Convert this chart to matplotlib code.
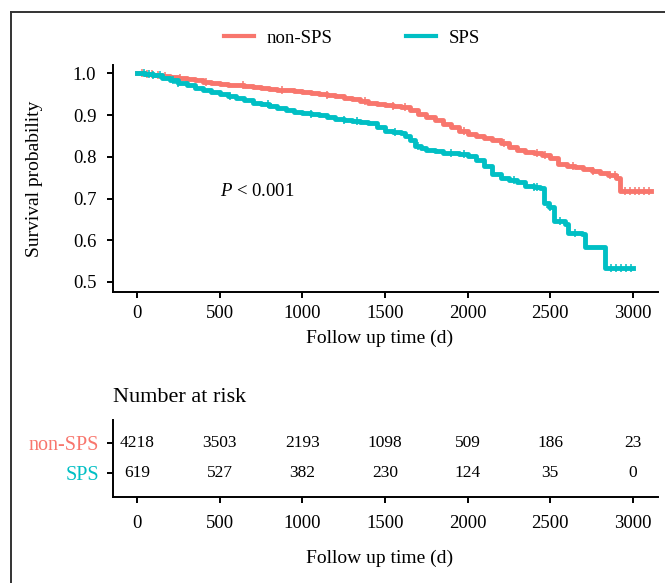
import numpy as np
import matplotlib
matplotlib.use('Agg')
from matplotlib import pyplot as plt
from matplotlib.lines import Line2D

plt.rcParams['font.family'] = ['Liberation Serif', 'DejaVu Serif']
plt.rcParams['mathtext.fontset'] = 'custom'
plt.rcParams['mathtext.it'] = 'Liberation Serif:italic'
plt.rcParams['mathtext.rm'] = 'Liberation Serif'

# Kaplan-Meier step points (time in days, survival)
non_sps_time = [0, 50, 100, 150, 200, 250, 300, 350, 400, 450, 500, 550, 600, 650, 700,
                750, 800, 850, 900, 950, 1000, 1050, 1100, 1150, 1200, 1250, 1300, 1350,
                1400, 1450, 1500, 1550, 1600, 1650, 1700, 1750, 1800, 1850, 1900, 1950,
                2000, 2050, 2100, 2150, 2200, 2250, 2300, 2350, 2400, 2450, 2500, 2550,
                2600, 2650, 2700, 2750, 2800, 2850, 2900, 2920, 3110]
non_sps_surv = [1.000, 0.999, 0.997, 0.994, 0.991, 0.988, 0.986, 0.983, 0.980, 0.978,
                0.975, 0.973, 0.971, 0.969, 0.967, 0.965, 0.963, 0.961, 0.959, 0.958,
                0.956, 0.953, 0.951, 0.949, 0.946, 0.942, 0.938, 0.934, 0.930, 0.926,
                0.923, 0.921, 0.919, 0.912, 0.902, 0.895, 0.887, 0.879, 0.871, 0.862,
                0.855, 0.851, 0.846, 0.841, 0.832, 0.823, 0.816, 0.811, 0.808, 0.805,
                0.797, 0.782, 0.779, 0.775, 0.770, 0.766, 0.761, 0.756, 0.750, 0.717,
                0.717]

sps_time = [0, 50, 100, 150, 200, 250, 300, 350, 400, 450, 500, 550, 600, 650, 700, 750,
            800, 850, 900, 950, 1000, 1050, 1100, 1150, 1200, 1250, 1300, 1350, 1400,
            1450, 1500, 1550, 1600, 1620, 1650, 1680, 1720, 1750, 1800, 1850, 1900, 1950,
            2000, 2050, 2100, 2150, 2200, 2250, 2300, 2350, 2400, 2440, 2460, 2490, 2520,
            2590, 2610, 2690, 2710, 2830, 3000]
sps_surv = [1.000, 0.998, 0.995, 0.990, 0.985, 0.978, 0.971, 0.965, 0.960, 0.955, 0.950,
            0.945, 0.940, 0.935, 0.930, 0.926, 0.922, 0.917, 0.912, 0.908, 0.905, 0.902,
            0.899, 0.895, 0.891, 0.888, 0.885, 0.884, 0.882, 0.872, 0.862, 0.860, 0.858,
            0.851, 0.840, 0.826, 0.820, 0.816, 0.813, 0.810, 0.808, 0.806, 0.801, 0.792,
            0.778, 0.758, 0.749, 0.745, 0.740, 0.731, 0.727, 0.726, 0.690, 0.680, 0.645,
            0.640, 0.618, 0.615, 0.583, 0.533, 0.533]

# censored observations (times)
non_sps_censor = [30, 60, 90, 130, 170, 260, 420, 640, 880, 1150, 1380, 1550, 1620,
                  1980, 2220, 2420, 2470, 2640, 2760, 2860, 2890, 2950, 2980, 3010, 3040,
                  3070, 3100]
sps_censor = [40, 70, 100, 140, 220, 250, 560, 790, 1050, 1250, 1330, 1560, 1700, 1900,
              1980, 2280, 2400, 2420, 2500, 2560, 2650, 2870, 2900, 2930, 2960, 2990]

risk_times = [0, 500, 1000, 1500, 2000, 2500, 3000]
risk_non_sps = [4218, 3503, 2193, 1098, 509, 186, 23]
risk_sps = [619, 527, 382, 230, 124, 35, 0]

groups = ['non-SPS', 'SPS']
colors = ['#F8766D', '#00BFC4']


def surv_at(times, surv, t):
    idx = np.searchsorted(times, t, side='right') - 1
    return np.asarray(surv)[idx]


fig = plt.figure(figsize=(6.65, 5.83), dpi=100)
W, H = 665.0, 583.0

# outer frame (cropped on right/bottom)
fig.add_artist(Line2D([10.5 / W, 10.5 / W], [0, 1 - 12 / H], transform=fig.transFigure,
                      color='#333333', lw=1.4))
fig.add_artist(Line2D([10.5 / W, 1], [1 - 12 / H, 1 - 12 / H], transform=fig.transFigure,
                      color='#333333', lw=1.4))

ax = fig.add_axes([113 / W, 1 - 292 / H, 545 / W, 227 / H])
risk_ax = fig.add_axes([113 / W, 1 - 497 / H, 545 / W, 77 / H])

series = [(non_sps_time, non_sps_surv, non_sps_censor), (sps_time, sps_surv, sps_censor)]
for (t, s, c), name, col in zip(series, groups, colors):
    ax.plot(t, s, drawstyle='steps-post', color=col, lw=3.5, label=name)
    ax.plot(c, surv_at(t, s, c), ls='none', marker='+', ms=5.5, mew=1.1, color=col)

for a in (ax, risk_ax):
    a.set_xlim(-145, 3152)
    a.set_xticks(risk_times)
    for side in ('top', 'right'):
        a.spines[side].set_visible(False)
    for side in ('left', 'bottom'):
        a.spines[side].set_linewidth(1.4)
    a.tick_params(length=4, width=1.4, labelsize=13.5, color='black')

ax.set_ylim(0.476, 1.02)
ax.set_yticks([0.5, 0.6, 0.7, 0.8, 0.9, 1.0])
ax.set_yticklabels(['0.5', '0.6', '0.7', '0.8', '0.9', '1.0'])
ax.tick_params(axis='y', pad=8)
ax.tick_params(axis='x', pad=5)
ax.set_ylabel('Survival probability', fontsize=14)
ax.yaxis.set_label_coords(-0.128, 0.5)
ax.set_xlabel('Follow up time (d)', fontsize=14, va='center')
ax.xaxis.set_label_coords(0.49, -0.203)
ax.text(500, 0.716, r'$P$ < 0.001', fontsize=13.5, ha='left', va='center')

fig.legend(handles=[Line2D([], [], color=c, lw=3) for c in colors], labels=groups,
           loc='center', bbox_to_anchor=(352 / W, 1 - 38 / H), ncol=2, frameon=False,
           fontsize=13.5, handlelength=1.6, handletextpad=0.7, columnspacing=3.9)

# risk table
for row, counts in zip([1, 0], [risk_non_sps, risk_sps]):
    for t, n in zip(risk_times, counts):
        risk_ax.text(t, row, str(n), ha='center', va='center', fontsize=12.5)
risk_ax.set_ylim(-0.8, 1.77)
risk_ax.set_yticks([1, 0])
risk_ax.set_yticklabels(groups, fontsize=14.5)
for lbl, col in zip(risk_ax.get_yticklabels(), colors):
    lbl.set_color(col)
risk_ax.tick_params(axis='y', pad=6)
risk_ax.tick_params(axis='x', pad=9)
risk_ax.set_xlabel('Follow up time (d)', fontsize=14, va='center')
risk_ax.xaxis.set_label_coords(0.49, -0.792)
risk_ax.text(0, 1.29, 'Number at risk', transform=risk_ax.transAxes, ha='left',
             va='center', fontsize=16)

fig.savefig('out.png', dpi=100)
